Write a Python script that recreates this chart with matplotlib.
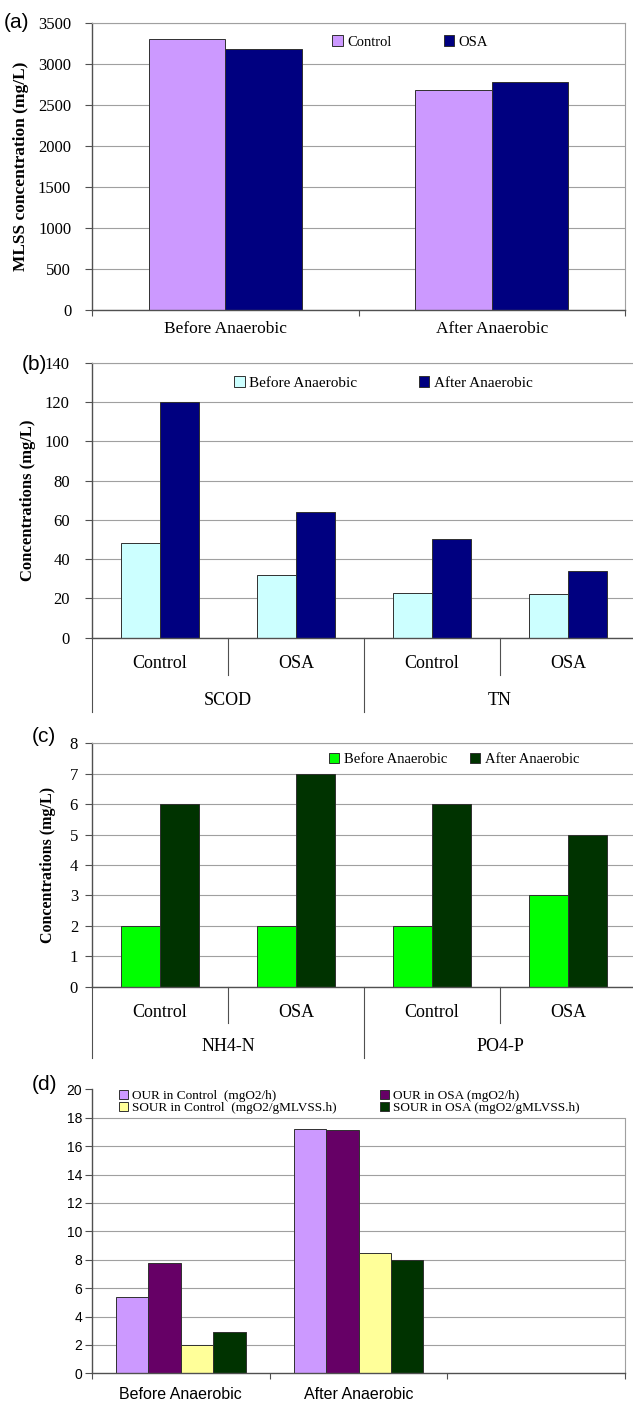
import numpy as np
import matplotlib.pyplot as plt

W, H, DPI = 633, 1403, 100
SERIF = "Liberation Serif"
SANS = "Liberation Sans"

# (a) MLSS
mlss_groups = ["Before Anaerobic", "After Anaerobic"]
mlss_control = [3300, 2680]
mlss_osa = [3180, 2780]

# (b) SCOD / TN
bt_params = ["SCOD", "TN"]
bt_reactors = ["Control", "OSA", "Control", "OSA"]
bt_before = [48, 32, 23, 22]
bt_after = [120, 64, 50, 34]

# (c) NH4-N / PO4-P
nut_params = ["NH4-N", "PO4-P"]
nut_reactors = ["Control", "OSA", "Control", "OSA"]
nut_before = [2, 2, 2, 3]
nut_after = [6, 7, 6, 5]

# (d) OUR / SOUR
resp_groups = ["Before Anaerobic", "After Anaerobic", ""]
our_control = [5.4, 17.2]
our_osa = [7.8, 17.1]
sour_control = [2.0, 8.5]
sour_osa = [2.9, 8.0]

GRID = "#a0a0a0"
AXIS = "#505050"
EDGE = "#303030"

fig = plt.figure(figsize=(W / DPI, H / DPI), dpi=DPI)
fig.patch.set_facecolor("white")


def px_axes(left, top, right, bottom):
    return fig.add_axes([left / W, 1 - bottom / H, (right - left) / W, (bottom - top) / H])


def excel_frame(ax, ymax, step, ncat, tick_font, tick_size, pad):
    ax.set_xlim(-0.5, ncat - 0.5)
    ax.set_ylim(0, ymax)
    ax.set_yticks(np.arange(0, ymax + step / 2, step))
    ax.grid(axis="y", color=GRID, lw=0.8)
    ax.set_axisbelow(True)
    for s in ("left", "bottom"):
        ax.spines[s].set_color(AXIS)
        ax.spines[s].set_linewidth(1.0)
    for s in ("top", "right"):
        ax.spines[s].set_color(GRID)
        ax.spines[s].set_linewidth(0.8)
    ax.tick_params(axis="y", length=5, width=0.8, color=AXIS, pad=pad)
    for lab in ax.get_yticklabels():
        lab.set_fontfamily(tick_font)
        lab.set_fontsize(tick_size)


def bottom_ticks(ax, ncat, labels, font, size, pad):
    ax.set_xticks(range(ncat))
    ax.set_xticklabels(labels, fontfamily=font, fontsize=size)
    ax.set_xticks(np.arange(-0.5, ncat, 1.0), minor=True)
    ax.tick_params(axis="x", which="major", length=0, pad=pad)
    ax.tick_params(axis="x", which="minor", length=4, width=0.8, color=AXIS)


def two_level(ax, subs, groups, axh, y_sub, y_grp, y_inner, y_outer, size):
    tr = ax.get_xaxis_transform()
    ax.set_xticks([])
    for i, s in enumerate(subs):
        ax.text(i, -y_sub / axh, s, transform=tr, ha="center", va="center",
                fontfamily=SERIF, fontsize=size)
    for g, name in enumerate(groups):
        ax.text(2 * g + 0.5, -y_grp / axh, name, transform=tr, ha="center", va="center",
                fontfamily=SERIF, fontsize=size)
    for x in (0.5, 2.5):
        ax.plot([x, x], [0, -y_inner / axh], transform=tr, color=AXIS, lw=0.8, clip_on=False)
    for x in (-0.5, 1.5, 3.5):
        ax.plot([x, x], [0, -y_outer / axh], transform=tr, color=AXIS, lw=0.8, clip_on=False)


def ylabel(text, x, y, size):
    fig.text(x / W, 1 - y / H, text, rotation=90, ha="center", va="center",
             fontfamily=SERIF, fontweight="bold", fontsize=size)


def panel_tag(text, x, y):
    fig.text(x / W, 1 - y / H, text, ha="left", va="center", fontfamily=SANS, fontsize=15)


BW2 = 0.2865  # two bars per category

# ---- (a) MLSS ----
ax = px_axes(92, 23, 625, 310)
xa = np.arange(len(mlss_groups))
ax.bar(xa - BW2 / 2, mlss_control, BW2, color="#CC99FF", edgecolor=EDGE, lw=0.7, label="Control")
ax.bar(xa + BW2 / 2, mlss_osa, BW2, color="#000080", edgecolor=EDGE, lw=0.7, label="OSA")
excel_frame(ax, 3500, 500, 2, SERIF, 12, 10)
bottom_ticks(ax, 2, mlss_groups, SERIF, 12.5, 8)
ax.legend(loc="center left", bbox_to_anchor=(0.44, 0.934), ncol=2, frameon=False,
          prop={"family": SERIF, "size": 10.5}, handlelength=0.7, handleheight=0.7,
          handletextpad=0.3, columnspacing=3.6, borderaxespad=0)
ylabel("MLSS concentration (mg/L)", 21, 166, 12.5)
panel_tag("(a)", 4, 22)

# ---- (b) SCOD / TN ----
ax = px_axes(92, 362.7, 636, 637.7)
xb = np.arange(len(bt_reactors))
ax.bar(xb - BW2 / 2, bt_before, BW2, color="#CCFFFF", edgecolor=EDGE, lw=0.7, label="Before Anaerobic")
ax.bar(xb + BW2 / 2, bt_after, BW2, color="#000080", edgecolor=EDGE, lw=0.7, label="After Anaerobic")
excel_frame(ax, 140, 20, 4, SERIF, 12, 11)
two_level(ax, bt_reactors, bt_params, 275, 26, 63, 37, 74, 13)
ax.legend(loc="center left", bbox_to_anchor=(0.25, 0.926), ncol=2, frameon=False,
          prop={"family": SERIF, "size": 11}, handlelength=0.7, handleheight=0.7,
          handletextpad=0.3, columnspacing=4.0, borderaxespad=0)
ylabel("Concentrations (mg/L)", 28, 500, 12)
panel_tag("(b)", 22, 364)

# ---- (c) NH4-N / PO4-P ----
ax = px_axes(92, 743.3, 636, 986.7)
xc = np.arange(len(nut_reactors))
ax.bar(xc - BW2 / 2, nut_before, BW2, color="#00FF00", edgecolor=EDGE, lw=0.7, label="Before Anaerobic")
ax.bar(xc + BW2 / 2, nut_after, BW2, color="#003300", edgecolor=EDGE, lw=0.7, label="After Anaerobic")
excel_frame(ax, 8, 1, 4, SERIF, 12, 5)
two_level(ax, nut_reactors, nut_params, 243.4, 26, 60, 36, 71, 13)
ax.legend(loc="center left", bbox_to_anchor=(0.425, 0.935), ncol=2, frameon=False,
          prop={"family": SERIF, "size": 10.5}, handlelength=0.7, handleheight=0.7,
          handletextpad=0.3, columnspacing=1.6, borderaxespad=0)
ylabel("Concentrations (mg/L)", 48, 865, 11.5)
panel_tag("(c)", 32, 737)

# ---- (d) OUR / SOUR ----
ax = px_axes(92, 1089.3, 625, 1373.3)
BW4 = 0.182
xd = np.arange(len(our_control))
b1 = ax.bar(xd - 1.5 * BW4, our_control, BW4, color="#CC99FF", edgecolor=EDGE, lw=0.7)
b2 = ax.bar(xd - 0.5 * BW4, our_osa, BW4, color="#660066", edgecolor=EDGE, lw=0.7)
b3 = ax.bar(xd + 0.5 * BW4, sour_control, BW4, color="#FFFF99", edgecolor=EDGE, lw=0.7)
b4 = ax.bar(xd + 1.5 * BW4, sour_osa, BW4, color="#003300", edgecolor=EDGE, lw=0.7)
excel_frame(ax, 20, 2, 3, SANS, 10, 2)
ax.grid(False)
for v in np.arange(2, 19, 2):
    ax.axhline(v, color=GRID, lw=0.8, zorder=0)
ax.spines["top"].set_visible(False)
ax.spines["right"].set_bounds(0, 18)
bottom_ticks(ax, 3, resp_groups, SANS, 11.5, 10)
ax.legend([b1, b3, b2, b4],
          ["OUR in Control  (mgO2/h)", "SOUR in Control  (mgO2/gMLVSS.h)",
           "OUR in OSA (mgO2/h)", "SOUR in OSA (mgO2/gMLVSS.h)"],
          loc="center left", bbox_to_anchor=(0.04, 0.956), ncol=2, frameon=False,
          prop={"family": SERIF, "size": 9.5}, handlelength=0.7, handleheight=0.7,
          handletextpad=0.3, columnspacing=3.3, labelspacing=0.0, borderaxespad=0)
panel_tag("(d)", 32, 1085)

fig.savefig("out.png", dpi=DPI, facecolor="white")
